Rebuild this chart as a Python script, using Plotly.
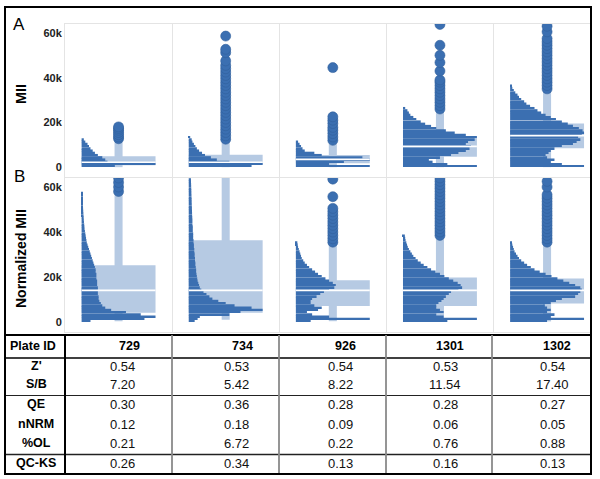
import plotly.graph_objects as go

# ---------------- data ----------------
plates = ["729", "734", "926", "1301", "1302"]

# Histogram bar lengths (% of box width), 1k-wide bins starting at 0
a_hist_729 = [45, 100, 35, 32, 28, 22, 18, 15, 12, 10, 8, 5, 3]
a_hist_734 = [85, 100, 55, 38, 30, 22, 18, 14, 11, 9, 7, 5, 4, 2]
a_hist_926 = [100, 45, 65, 100, 90, 35, 25, 12, 9, 7, 5, 3]
a_hist_1301 = [100, 60, 40, 35, 50, 65, 75, 85, 90, 92, 85, 88, 97, 100, 85, 70, 58,
               45, 38, 30, 24, 18, 14, 10, 8, 6, 3]
a_hist_1302 = [100, 70, 55, 60, 50, 48, 52, 55, 60, 70, 85, 90, 95, 92, 97, 100, 98, 93,
               85, 78, 70, 62, 55, 48, 42, 37, 33, 27, 22, 19, 15, 12, 10, 7, 5, 3, 2]

b_hist_729 = [12, 85, 100, 80, 60, 40, 32, 28, 26, 24, 23, 23, 22, 22, 22, 22, 21, 21,
              21, 20, 20, 20, 19, 19, 18, 17, 16, 15, 14, 13, 12, 11, 10, 9, 8, 7, 6.5,
              6, 5.5, 5, 4.5, 4, 3.8, 3.5, 3.2, 3, 2.8, 2.6, 2.4, 2.2, 2, 1.9, 1.8, 1.6,
              1.5, 1.4, 1.2, 1]
b_hist_734 = [8, 12, 15, 55, 70, 100, 85, 62, 50, 40, 32, 28, 24, 20, 17, 15, 14, 13,
              12, 11.5, 11, 10.5, 10, 10, 9.5, 9, 9, 8.5, 8.5, 8, 8, 7.5, 7.5, 7, 7,
              6.5, 6.5, 6, 6, 6, 5.5, 5.5, 5.5, 5, 5, 5, 4.8, 4.6, 4.5, 4.4, 4.3, 4.2,
              4.1, 4, 3.9, 3.8, 3.7, 3.6, 3.5, 3.4, 3.3, 3.2, 3.1, 3]
b_hist_926 = [20, 100, 45, 22, 15, 30, 35, 25, 20, 20, 22, 28, 33, 38, 45, 52, 54, 50,
              45, 40, 35, 30, 26, 22, 18, 15, 12, 10, 8, 7, 6, 5, 4, 3, 2.5, 2]
b_hist_1301 = [60, 100, 55, 45, 55, 50, 45, 45, 48, 52, 55, 58, 62, 65, 75, 80, 78, 74,
               68, 62, 56, 50, 44, 38, 33, 28, 24, 20, 17, 14, 12, 10, 8, 6.5, 5.5, 4.5,
               3.5, 3, 2.5]
b_hist_1302 = [50, 100, 55, 60, 50, 55, 50, 47, 55, 62, 70, 88, 92, 95, 97, 95, 88, 80,
               72, 64, 56, 48, 40, 33, 28, 23, 19, 15, 12, 10, 8, 6, 5, 4, 3, 2]

# Box statistics (MII units)
a_q1 = [900, 1200, 1800, 4600, 8500]
a_median = [2200, 2200, 3500, 9300, 14100]
a_q3 = [4900, 5600, 5400, 13300, 19500]
a_low = [0, 0, 0, 0, 0]
a_high = [11500, 12000, 10500, 25300, 34000]

b_q1 = [4100, 4100, 7100, 7100, 8300]
b_median = [14100, 14100, 14100, 14100, 14100]
b_q3 = [25300, 36300, 18600, 19800, 19400]
b_low = [400, 1000, 400, 300, 300]
b_high = [57000, 66000, 34500, 37000, 34200]

# Outliers (MII units, thousands)
a_out_729 = [12.7, 13.5, 14.5, 15.5, 16.5, 17.3, 18.0]
a_out_734 = [12.5, 14, 15.5, 17, 18.5, 20, 21.5, 23, 24.5, 26, 27.5, 29, 30.5, 32, 33.5,
             35, 36.5, 38, 39.5, 41, 42.5, 44, 45.5, 47.5, 51.2, 52.7, 58.6]
a_out_926 = [12, 13.5, 15, 16.5, 17.8, 19.5, 21, 22.5, 44.5]
a_out_1301 = [26, 27.5, 29, 30.5, 32, 33.5, 35, 36.5, 38, 39, 43, 46.8, 50, 54.5, 63.8]
a_out_1302 = [35, 36.5, 38, 39.5, 41, 42.5, 44, 45.5, 47, 48.5, 50, 51.5, 53, 54.5, 56,
              57.5, 60.5, 63]

b_out_729 = [58, 60, 62, 64, 66]
b_out_734 = []
b_out_926 = [35.5, 37, 38.5, 40, 41.5, 43, 44.5, 46, 47.5, 49, 50.5, 55.7, 63.5]
b_out_1301 = [38.5, 40, 41.5, 43, 44.5, 46, 47.5, 49, 50.5, 52, 53.5, 55, 56.5, 58,
              59.5, 61, 62.5, 64]
b_out_1302 = [35.5, 37, 38.5, 40, 41.5, 43, 44.5, 46, 47.5, 49, 50.5, 52, 53.5, 55,
              56.5, 60, 62.5]

y_tick_vals = [0, 20000, 40000, 60000]
y_tick_text = ["0", "20k", "40k", "60k"]

row_labels = ["Z'", "S/B", "QE", "nNRM", "%OL", "QC-KS"]
z_prime = [0.54, 0.53, 0.54, 0.53, 0.54]
s_b = [7.20, 5.42, 8.22, 11.54, 17.40]
qe = [0.30, 0.36, 0.28, 0.28, 0.27]
nnrm = [0.12, 0.18, 0.09, 0.06, 0.05]
pct_ol = [0.21, 6.72, 0.22, 0.76, 0.88]
qc_ks = [0.26, 0.34, 0.13, 0.16, 0.13]

# ---------------- style ----------------
W, H = 600, 479
DARK = "#3b6fb1"
LIGHT = "#b6cae3"
FRAME = "#e4e4e4"
FONT = "Liberation Sans, Arial, sans-serif"
BOX_W = 0.69
WHISK_W = 0.075
BIN = 1000


def px(x):
    return x / W


def py(y):
    return 1 - y / H


fig = go.Figure()

panels = [
    ("x", "y", [a_hist_729, a_hist_734, a_hist_926, a_hist_1301, a_hist_1302],
     a_q1, a_median, a_q3, a_low, a_high,
     [a_out_729, a_out_734, a_out_926, a_out_1301, a_out_1302]),
    ("x2", "y2", [b_hist_729, b_hist_734, b_hist_926, b_hist_1301, b_hist_1302],
     b_q1, b_median, b_q3, b_low, b_high,
     [b_out_729, b_out_734, b_out_926, b_out_1301, b_out_1302]),
]

pos = list(range(len(plates)))
for xa, ya, hists, q1, med, q3, low, high, outs in panels:
    # whiskers
    fig.add_trace(go.Bar(x=pos, y=[h - l for h, l in zip(high, low)], base=low,
                         width=WHISK_W, marker=dict(color=LIGHT, line=dict(width=0)),
                         xaxis=xa, yaxis=ya, showlegend=False, hoverinfo="skip"))
    # boxes
    fig.add_trace(go.Bar(x=pos, y=[b - a for a, b in zip(q1, q3)], base=q1,
                         width=BOX_W, marker=dict(color=LIGHT, line=dict(width=0)),
                         xaxis=xa, yaxis=ya, showlegend=False, hoverinfo="skip"))
    # half histograms
    for i, hv in enumerate(hists):
        fig.add_trace(go.Bar(orientation="h",
                             y=[k * BIN + BIN / 2 for k in range(len(hv))],
                             x=[v / 100 * BOX_W for v in hv],
                             base=i - BOX_W / 2, width=BIN * 0.82,
                             marker=dict(color=DARK, line=dict(width=0)),
                             xaxis=xa, yaxis=ya, showlegend=False, hoverinfo="skip"))
    # medians
    mx, my = [], []
    for i, m in enumerate(med):
        mx += [i - BOX_W / 2, i + BOX_W / 2, None]
        my += [m, m, None]
    fig.add_trace(go.Scatter(x=mx, y=my, mode="lines", line=dict(color="white", width=1.6),
                             xaxis=xa, yaxis=ya, showlegend=False, hoverinfo="skip"))
    # outliers
    ox, oy = [], []
    for i, o in enumerate(outs):
        ox += [i] * len(o)
        oy += [v * 1000 for v in o]
    fig.add_trace(go.Scatter(x=ox, y=oy, mode="markers",
                             marker=dict(size=10, color=DARK, line=dict(color="#31609c", width=0.6)),
                             xaxis=xa, yaxis=ya, showlegend=False, hoverinfo="skip"))

xdom = [px(65), px(591)]
xcommon = dict(range=[-0.5, 4.41], domain=xdom, tickvals=[0.5, 1.5, 2.5, 3.5],
               showticklabels=False, ticks="", showgrid=True, gridcolor=FRAME, gridwidth=1,
               zeroline=False, showline=True, mirror=True, linecolor=FRAME, linewidth=1,
               fixedrange=True)
ycommon = dict(range=[-4400, 64000], tickvals=y_tick_vals, ticktext=y_tick_text,
               showgrid=False, zeroline=False, ticks="", showline=True, mirror=True,
               linecolor=FRAME, linewidth=1,
               tickfont=dict(family=FONT, size=11, color="#222", weight="bold"),
               fixedrange=True)

fig.update_layout(
    width=W, height=H, margin=dict(l=0, r=0, t=0, b=0),
    paper_bgcolor="white", plot_bgcolor="white", barmode="overlay",
    xaxis=dict(xcommon, anchor="y"),
    yaxis=dict(ycommon, domain=[py(177), py(24)], anchor="x"),
    xaxis2=dict(xcommon, anchor="y2"),
    yaxis2=dict(ycommon, domain=[py(332), py(178)], anchor="x2"),
)


def text(t, x, y, size=12, color="black", angle=0):
    return dict(text=t, x=px(x), y=py(y), xref="paper", yref="paper", showarrow=False,
                xanchor="center", yanchor="middle", textangle=angle,
                font=dict(family=FONT, size=size, color=color))


ann = []
# panel letters / axis titles
ann.append(text("A", 19, 24, size=17))
ann.append(text("B", 19, 177, size=17))
ann.append(text("<b>MII</b>", 21, 94, size=14.5, angle=-90))
ann.append(text("<b>Normalized MII</b>", 21, 259, size=14, angle=-90))

# table
header_x = [129, 242, 345, 450, 557]
value_x = [123, 236, 340, 445, 552]
row_y = [366, 384, 404, 424, 443, 463]
ann.append(text("<b>Plate ID</b>", 33, 346, size=12.5))
for p, hx in zip(plates, header_x):
    ann.append(text("<b>%s</b>" % p, hx, 346, size=12.5))
rows = [z_prime, s_b, qe, nnrm, pct_ol, qc_ks]
for lab, vals, ry in zip(row_labels, rows, row_y):
    ann.append(text("<b>%s</b>" % lab, 36, ry, size=12.5))
    for v, vx in zip(vals, value_x):
        ann.append(text("%.2f" % v, vx, ry, size=13, color="#111"))
fig.update_layout(annotations=ann)

shapes = []


def hline(y, x0=5, x1=591, color="black", w=1.5):
    shapes.append(dict(type="line", xref="paper", yref="paper", x0=px(x0), x1=px(x1),
                       y0=py(y), y1=py(y), line=dict(color=color, width=w)))


def vline(x, y0, y1, color="black", w=1.5):
    shapes.append(dict(type="line", xref="paper", yref="paper", x0=px(x), x1=px(x),
                       y0=py(y0), y1=py(y1), line=dict(color=color, width=w)))


hline(335, w=2)
hline(358, w=1.5)
hline(395.5, w=1.2, color="#222")
hline(454.5, w=1.5, color="#222")
vline(65, 335, 474, w=2)
for cx in [172, 279, 386, 492]:
    vline(cx, 335, 474, color="#8a8a8a", w=1.8)
shapes.append(dict(type="rect", xref="paper", yref="paper", x0=px(5), x1=px(591),
                   y0=py(474), y1=py(7), line=dict(color="black", width=2)))
fig.update_layout(shapes=shapes)

fig.write_html("out.html", config={"displayModeBar": False},
               post_script="document.body.style.margin='0';document.body.style.padding='0';")
